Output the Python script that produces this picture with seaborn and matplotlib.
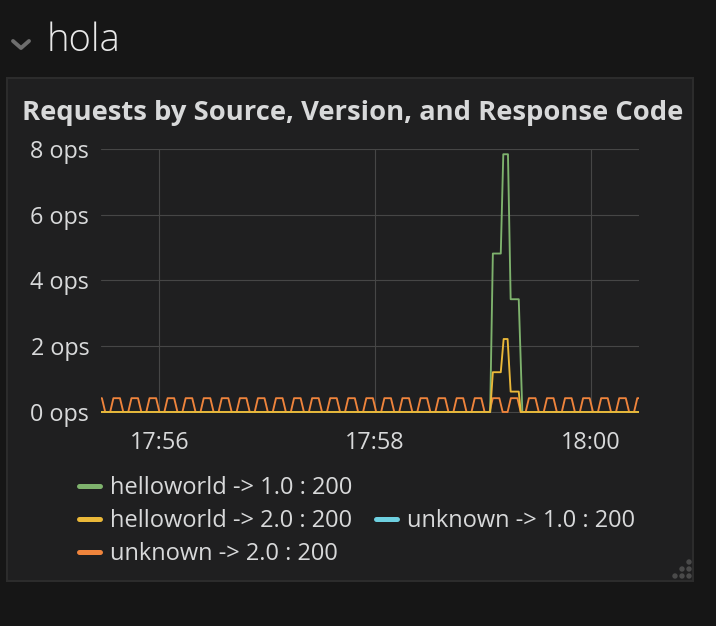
import pandas as pd
import seaborn as sns
import matplotlib.pyplot as plt
import matplotlib.dates as mdates
from matplotlib.lines import Line2D
from matplotlib.patches import Rectangle, Circle
from matplotlib.transforms import IdentityTransform
from matplotlib.ticker import FuncFormatter

# all times are seconds after 17:56:00
start = pd.Timestamp("2018-01-01 17:56:00")

green_t = [-33, 184.1, 185.6, 190.0, 191.4, 194.0, 195.5, 200.0, 202.0, 268]
green_v = [0, 0, 4.82, 4.82, 7.84, 7.84, 3.43, 3.43, 0, 0]

yellow_t = [-33, 184.1, 185.6, 190.0, 191.6, 193.8, 195.5, 200.0, 201.1, 268]
yellow_v = [0, 0, 1.21, 1.21, 2.22, 2.22, 0.62, 0.62, 0, 0]

# the orange series repeats the same small bump roughly every 10 s
orange_cycle_t = [0.0, 1.8, 5.45, 7.3]
orange_cycle_v = [0, 0.42, 0.42, 0]
orange_first_rise = -37.35
orange_period = 10.05
orange_cycles = 31

x_range = [-32.4, 266.9]
x_ticks = [0, 120, 240]
y_ticks = [0, 2, 4, 6, 8]

# the cyan series (unknown -> 1.0) has no points drawn, only a legend entry
legend_labels = ["helloworld -> 1.0 : 200", "helloworld -> 2.0 : 200",
                 "unknown -> 1.0 : 200", "unknown -> 2.0 : 200"]
colors = ["#7eb26d", "#eab839", "#6ed0e0", "#ef843c"]

orange_t = [orange_first_rise + k * orange_period + o
            for k in range(orange_cycles) for o in orange_cycle_t]
orange_v = orange_cycle_v * orange_cycles


def to_time(secs):
    return start + pd.to_timedelta(secs, unit="s")


W, H = 716, 626


def fx(x):
    return x / W


def fy(y):
    return 1 - y / H


sns.set_theme(style="dark")
plt.rcParams['font.family'] = ['Open Sans', 'DejaVu Sans']
text_col = '#d8d9da'

fig = plt.figure(figsize=(W / 100, H / 100), dpi=100)
fig.patch.set_facecolor('#161616')

# panel box
fig.add_artist(Rectangle((fx(6.5), fy(580.5)), (693 - 6.5) / W, (580.5 - 78) / H,
                         transform=fig.transFigure, facecolor='#1f1f20',
                         edgecolor='#2c2c2c', lw=1.5, zorder=-5))

ax = fig.add_axes([fx(101), fy(413.3), (639 - 101) / W, (413.3 - 149) / H])
ax.set_facecolor('#1f1f20')

lw = 1.35
sns.lineplot(x=to_time(orange_t), y=orange_v, ax=ax, color=colors[3], linewidth=lw, zorder=2)
sns.lineplot(x=to_time(green_t), y=green_v, ax=ax, color=colors[0], linewidth=lw, zorder=4)
sns.lineplot(x=to_time(yellow_t), y=yellow_v, ax=ax, color=colors[1], linewidth=lw, zorder=5)

ax.set_xlim(to_time(x_range[0]), to_time(x_range[1]))
ax.set_ylim(-0.04, 8)
ax.set_yticks(y_ticks)
ax.yaxis.set_major_formatter(FuncFormatter(lambda v, p: f"{v:.0f} ops"))
ax.set_xticks(to_time(x_ticks))
ax.xaxis.set_major_formatter(mdates.DateFormatter('%H:%M'))
ax.grid(True, color='#464646', linewidth=0.8)
ax.set_axisbelow(True)
for s in ax.spines.values():
    s.set_visible(False)
ax.tick_params(axis='both', length=0, colors=text_col, labelsize=16.8)
ax.tick_params(axis='y', pad=8.5)
ax.tick_params(axis='x', pad=12.5)
ax.set_xlabel('')
ax.set_ylabel('')

# row header and panel title
fig.add_artist(Line2D([fx(13), fx(21), fx(29)], [fy(41), fy(48), fy(41)],
                      color='#6e6e6e', lw=2.8, solid_capstyle='round'))
fig.text(fx(47), fy(51), "hola", fontsize=27.5, fontweight='light', color='#e9e9e9')
fig.text(fx(22), fy(120), "Requests by Source, Version, and Response Code",
         fontsize=19.75, fontweight='bold', color=text_col)

# legend laid out like the panel does
legend_pos = [(77, 494), (77, 527), (374, 527), (77, 560)]
for i, (x0, yb) in enumerate(legend_pos):
    fig.add_artist(Line2D([fx(x0 + 2), fx(x0 + 23)], [fy(yb - 8), fy(yb - 8)],
                          color=colors[i], lw=3.6, solid_capstyle='round'))
    fig.text(fx(x0 + 33), fy(yb), legend_labels[i], fontsize=17, color=text_col)

# resize handle dots
for cx, cy in [(689, 562), (682, 569), (689, 569), (675, 576), (682, 576), (689, 576)]:
    fig.add_artist(Circle((cx, H - cy), 2.7, transform=IdentityTransform(),
                          facecolor='#4a4a4a', edgecolor='none'))

fig.savefig('out.png', dpi=100, facecolor=fig.get_facecolor())
